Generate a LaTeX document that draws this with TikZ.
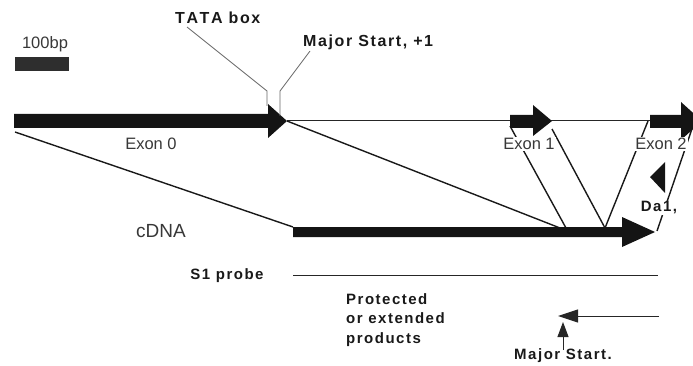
\documentclass[tikz,border=0pt]{standalone}
\usepackage{fontspec}
\setmainfont{Liberation Sans}
\newfontfamily\blfont{Liberation Sans}[LetterSpace=10,Kerning=Off]
\usetikzlibrary{arrows.meta}
\tikzset{
  lab/.style={font=\fontsize{16.5}{19}\selectfont, text=black!78, inner sep=0pt},
  blab/.style={font=\blfont\bfseries\fontsize{15}{19.5}\selectfont, text=black!90, inner sep=0pt},
  tlab/.style={font=\blfont\bfseries\fontsize{16}{19.5}\selectfont, text=black!90, inner sep=0pt},
  wlab/.style={fill=white, inner sep=1pt},
  leader/.style={draw=black!60, line width=0.8pt},
  conn/.style={draw=black!90, line width=1.4pt},
  thin/.style={draw=black!85, line width=1pt},
  blk/.style={fill=black!92}
}
\begin{document}
\begin{tikzpicture}[x=1pt,y=-1pt]
\useasboundingbox (0,0) rectangle (693,366);

% scale bar
\node[lab] (bp) at (45,44) {100bp};
\node[fill=black!82, minimum width=54pt, minimum height=14pt, inner sep=0pt] (bar) at (42,64) {};

% key coordinates
\coordinate (e0s) at (14,121);
\coordinate (e0t) at (287,121);
\coordinate (gend) at (693,121);
\coordinate (e0bl) at (15,132);
\coordinate (cs) at (293,227);
\coordinate (c1) at (560,228);
\coordinate (c2) at (566,228);
\coordinate (c3) at (605,228);
\coordinate (c4) at (657,231);
\coordinate (e1s) at (510,126);
\coordinate (e1e) at (552,129);
\coordinate (e2s) at (648,121);
\coordinate (e2e) at (695,120);

% genomic thin line
\draw[thin] (e0t) -- (gend);

% connectors (drawn first, labels with white fill over them)
\draw[conn] (e0bl) -- (cs);
\draw[conn] (e0t) -- (c1);
\draw[conn] (e1s) -- (c2);
\draw[conn] (e1e) -- (c3);
\draw[conn] (e2s) -- (c3);
\draw[conn] (e2e) -- (c4);

% Exon 0 block arrow
\fill[blk] (14,114) -- (268,114) -- (268,104) -- (287,121) -- (268,138) -- (268,128) -- (14,128) -- cycle;
% Exon 1 block arrow
\fill[blk] (510,115) -- (533,115) -- (533,105) -- (552,121) -- (533,136) -- (533,128) -- (510,128) -- cycle;
% Exon 2 block arrow (clipped at edge)
\begin{scope}
\clip (0,0) rectangle (693,366);
\fill[blk] (650,115) -- (681,115) -- (681,102) -- (702,121) -- (681,140) -- (681,128) -- (650,128) -- cycle;
\end{scope}
% cDNA block arrow
\fill[blk] (293,227) -- (622,227) -- (622,217) -- (655,232) -- (622,247) -- (622,237) -- (293,237) -- cycle;

% triangle
\fill[blk] (650,177) -- (665,162) -- (665,193) -- cycle;

% labels
\node[tlab, anchor=west] (tata) at (175,18) {TATA box};
\node[tlab, anchor=west] (ms1) at (303,42) {Major Start, +1};
\draw[leader] (187,27) -- (267,91) -- (267,106);
\draw[leader] (310,51) -- (280,91) -- (280,116);

\node[lab] (ex0) at (151,144) {Exon 0};
\node[lab, wlab] (ex1) at (529,144) {Exon 1};
\node[lab, wlab] (ex2) at (661,144) {Exon 2};
\node[blab, wlab] (da) at (659,208) {Da1,};
\node[lab, font=\fontsize{19}{21}\selectfont] (cdna) at (161,231) {cDNA};

\node[blab] (s1) at (227,276) {S1 probe};
\coordinate (s1a) at (293,275);
\coordinate (s1b) at (658,275);
\draw[thin] (s1a) -- (s1b);

\node[blab, anchor=north west, align=left] (prot) at (346,293) {Protected\\or extended\\products};

\coordinate (pa) at (659,316);
\coordinate (pb) at (558,316);
\draw[thin, -{Triangle[length=20pt,width=13pt]}] (pa) -- (pb);

\node[blab] (ms) at (563,356) {Major Start.};
\coordinate (mst) at (563,322);
\draw[thin, -{Triangle[length=15pt,width=11pt]}] (563,350) -- (mst);
\end{tikzpicture}
\end{document}
